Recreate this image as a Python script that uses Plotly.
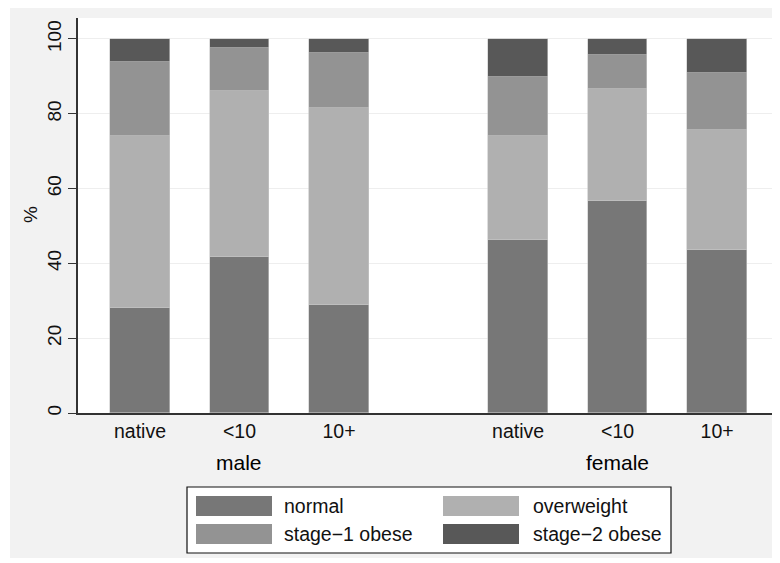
import plotly.graph_objects as go

groups = ["male", "female"]
categories = ["native", "<10", "10+"]
series = ["normal", "overweight", "stage−1 obese", "stage−2 obese"]
colors = ["#777777", "#b0b0b0", "#939393", "#585858"]

# percentages per bar: male native, male <10, male 10+, female native, female <10, female 10+
normal = [28.2, 41.6, 29.0, 46.2, 56.6, 43.5]
overweight = [45.8, 44.5, 52.5, 27.9, 30.0, 32.2]
stage1 = [19.8, 11.6, 14.7, 15.6, 9.2, 15.2]
stage2 = [6.2, 2.3, 3.8, 10.3, 4.2, 9.1]
values = [normal, overweight, stage1, stage2]

OFF = 8  # page body margin offset
W, H = 780, 563
L, T = 70, 10
AXB = 405  # x-axis position in figure pixels
B = H - AXB
R = 0
PW, PH = W - L - R, AXB - T

def xp(wx):
    return (wx - OFF - L) / PW

def yp(wy):
    return (AXB - (wy - OFF)) / PH

gap = 0.8
xpos, xlab, gcent = [], [], []
for gi, g in enumerate(groups):
    pos = [gi * (len(categories) + gap) + ci for ci in range(len(categories))]
    xpos += pos
    xlab += categories
    gcent.append(sum(pos) / len(pos))

fig = go.Figure()
for name, vals, col in zip(series, values, colors):
    fig.add_trace(go.Bar(x=xpos, y=vals, name=name, width=0.6,
                         marker=dict(color=col, line=dict(width=0.6, color="#c8c8c8")),
                         showlegend=False))

shapes = [
    dict(type="rect", xref="paper", yref="paper", x0=xp(10), x1=xp(800), y0=yp(558), y1=yp(0),
         fillcolor="#f2f2f2", line=dict(width=0), layer="below"),
    dict(type="rect", xref="paper", yref="paper", x0=0, x1=1, y0=0, y1=1,
         fillcolor="white", line=dict(width=0), layer="below"),
    dict(type="rect", xref="paper", yref="paper", x0=xp(187), x1=xp(671), y0=yp(553), y1=yp(487),
         fillcolor="white", line=dict(width=1.2, color="#111111")),
]
annotations = []
cols_x = [(196, 272, 282), (443, 519, 531)]
rows_y = [(496, 516), (524, 544)]
for i, (name, col) in enumerate(zip(series, colors)):
    r, c = divmod(i, 2)
    sx0, sx1, tx = cols_x[c]
    sy0, sy1 = rows_y[r]
    shapes.append(dict(type="rect", xref="paper", yref="paper", x0=xp(sx0), x1=xp(sx1),
                       y0=yp(sy1), y1=yp(sy0), fillcolor=col, line=dict(width=0)))
    annotations.append(dict(xref="paper", yref="paper", x=xp(tx), y=yp((sy0 + sy1) / 2),
                            text=name, showarrow=False, xanchor="left", yanchor="middle",
                            font=dict(size=19.5, color="#111111")))

for g, cx in zip(groups, gcent):
    annotations.append(dict(xref="x", yref="paper", x=cx, y=yp(462), text=g, showarrow=False,
                            xanchor="center", yanchor="middle",
                            font=dict(size=21, color="#000000")))
annotations.append(dict(xref="paper", yref="paper", x=xp(30), y=yp(215), text="%", showarrow=False,
                        textangle=-90, xanchor="center", yanchor="middle",
                        font=dict(size=19, color="#111111")))

fig.update_layout(
    width=W, height=H, margin=dict(l=L, r=R, t=T, b=B, pad=0),
    paper_bgcolor="white", plot_bgcolor="white",
    barmode="stack", bargap=0,
    font=dict(family="Liberation Sans, Arial, sans-serif", size=19, color="#111111"),
    shapes=shapes, annotations=annotations, showlegend=False,
    xaxis=dict(range=[-0.623, -0.623 + PW / 99.5], tickvals=xpos, ticktext=xlab, ticks="",
               showgrid=False, zeroline=False, showline=True, linecolor="#333333", linewidth=1.5,
               tickfont=dict(size=19.5), fixedrange=True),
    yaxis=dict(range=[0, 105.6], tickvals=[0, 20, 40, 60, 80, 100], ticks="outside", ticklen=8,
               tickcolor="#333333", tickwidth=1.2, tickangle=-90, showline=True,
               linecolor="#333333", linewidth=1.5, gridcolor="#eeeeee", gridwidth=1.2,
               zeroline=False, tickfont=dict(size=19)),
)
fig.write_html("out.html")
